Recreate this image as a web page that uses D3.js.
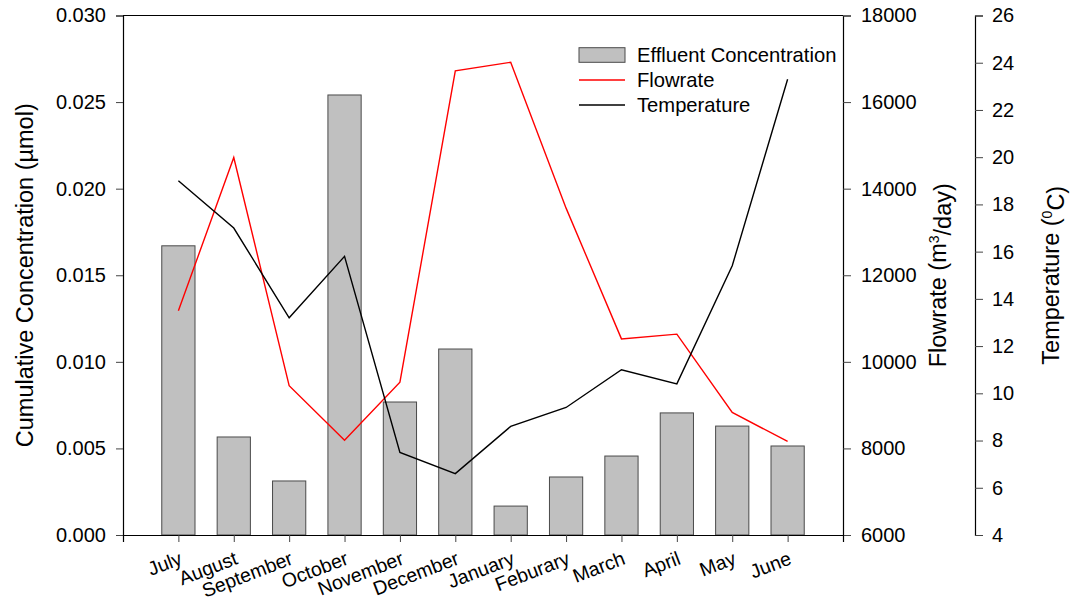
<!DOCTYPE html>
<html>
<head>
<meta charset="utf-8">
<script src="https://cdn.jsdelivr.net/npm/d3@7"></script>
<style>
  html, body { margin: 0; padding: 0; background: #fff; }
  svg { display: block; font-family: "Liberation Sans", Arial, sans-serif; }
</style>
</head>
<body>
<svg id="chart" width="1076" height="605"></svg>
<script>
// Monthly effluent concentration, flowrate and temperature
const months = ["July", "August", "September", "October", "November", "December",
                "January", "Feburary", "March", "April", "May", "June"];
const concentration = [0.0167, 0.00566, 0.00312, 0.02541, 0.00768, 0.01074,
                       0.00167, 0.00335, 0.00456, 0.00705, 0.00629, 0.00514];
const flowrate = [11180, 14720, 9450, 8190, 9530, 16720,
                  16920, 13550, 10530, 10640, 8830, 8160];
const temperature = [19.0, 17.0, 13.2, 15.8, 7.5, 6.6,
                     8.6, 9.4, 11.0, 10.4, 15.4, 23.3];
const concTicks = [0, 0.005, 0.010, 0.015, 0.020, 0.025, 0.030];
const flowTicks = [6000, 8000, 10000, 12000, 14000, 16000, 18000];
const tempTicks = [4, 6, 8, 10, 12, 14, 16, 18, 20, 22, 24, 26];

const svg = d3.select("#chart");
const plotLeft = 123, plotRight = 843, plotTop = 15.5, plotBottom = 535, tempAxisX = 975;

const x = d3.scaleLinear().domain([0, months.length + 1]).range([plotLeft, plotRight]);
const yConc = d3.scaleLinear().domain([0, 0.030]).range([plotBottom, plotTop]);
const yFlow = d3.scaleLinear().domain([6000, 18000]).range([plotBottom, plotTop]);
const yTemp = d3.scaleLinear().domain([4, 26]).range([plotBottom, plotTop]);

const step = x(1) - x(0);
const barW = step * 0.6;

// Bars
svg.append("g").selectAll("rect")
  .data(concentration)
  .join("rect")
  .attr("x", (d, i) => x(i + 1) - barW / 2)
  .attr("y", d => yConc(d))
  .attr("width", barW)
  .attr("height", d => yConc(0) - yConc(d))
  .attr("fill", "#c0c0c0")
  .attr("stroke", "#4a4a4a")
  .attr("stroke-width", 1);

// Lines
const flowLine = d3.line().x((d, i) => x(i + 1)).y(d => yFlow(d));
const tempLine = d3.line().x((d, i) => x(i + 1)).y(d => yTemp(d));
svg.append("path").datum(flowrate).attr("d", flowLine)
  .attr("fill", "none").attr("stroke", "#ff0000").attr("stroke-width", 1.4);
svg.append("path").datum(temperature).attr("d", tempLine)
  .attr("fill", "none").attr("stroke", "#000").attr("stroke-width", 1.4);

// Frame top
svg.append("line").attr("x1", plotLeft).attr("x2", plotRight).attr("y1", plotTop).attr("y2", plotTop)
  .attr("stroke", "#000").attr("stroke-width", 1.2);

function styleAxis(g) {
  g.select(".domain").attr("stroke", "#000").attr("stroke-width", 1.2);
  g.selectAll(".tick line").attr("stroke", "#444").attr("stroke-width", 1);
  g.selectAll(".tick text").attr("fill", "#000")
    .style("font-size", "20px").style("font-family", "Liberation Sans, Arial, sans-serif");
}

// Left axis
svg.append("g").attr("transform", `translate(${plotLeft},0)`)
  .call(d3.axisLeft(yConc).tickValues(concTicks).tickFormat(d3.format(".3f"))
    .tickSizeOuter(0).tickSize(7).tickPadding(10))
  .call(styleAxis);

// Flowrate axis
svg.append("g").attr("transform", `translate(${plotRight},0)`)
  .call(d3.axisRight(yFlow).tickValues(flowTicks).tickFormat(d3.format("d"))
    .tickSizeOuter(0).tickSize(8).tickPadding(10))
  .call(styleAxis);

// Temperature axis
svg.append("g").attr("transform", `translate(${tempAxisX},0)`)
  .call(d3.axisRight(yTemp).tickValues(tempTicks).tickFormat(d3.format("d"))
    .tickSizeOuter(0).tickSize(8).tickPadding(9))
  .call(styleAxis);

// Bottom axis
const xAxis = svg.append("g").attr("transform", `translate(0,${plotBottom})`)
  .call(d3.axisBottom(x).tickValues(d3.range(1, months.length + 1))
    .tickFormat(i => months[i - 1]).tickSizeOuter(0).tickSize(7).tickPadding(0))
  .call(styleAxis);
xAxis.selectAll(".tick text")
  .style("font-size", "19.5px")
  .attr("text-anchor", "end")
  .attr("dy", "0.72em")
  .attr("transform", "translate(-3,9) rotate(-21)");

// Axis titles
const titleFont = "23.5px";
svg.append("text")
  .attr("transform", `translate(33,${(plotTop + plotBottom) / 2}) rotate(-90)`)
  .attr("text-anchor", "middle").style("font-size", titleFont)
  .text("Cumulative Concentration (\u00b5mol)");

const flowTitle = svg.append("text")
  .attr("transform", `translate(946,${(plotTop + plotBottom) / 2}) rotate(-90)`)
  .attr("text-anchor", "middle").style("font-size", titleFont);
flowTitle.append("tspan").text("Flowrate (m");
flowTitle.append("tspan").text("3").attr("dy", "-0.5em").style("font-size", "14px");
flowTitle.append("tspan").text("/day)").attr("dy", "0.5em");

const tempTitle = svg.append("text")
  .attr("transform", `translate(1059,${(plotTop + plotBottom) / 2}) rotate(-90)`)
  .attr("text-anchor", "middle").style("font-size", titleFont);
tempTitle.append("tspan").text("Temperature (");
tempTitle.append("tspan").text("0").attr("dy", "-0.5em").style("font-size", "14px");
tempTitle.append("tspan").text("C)").attr("dy", "0.5em");

// Legend
const legend = svg.append("g");
const lx = 579, lw = 46, tx = 637;
legend.append("rect").attr("x", lx).attr("y", 47.7).attr("width", lw).attr("height", 14.6)
  .attr("fill", "#c0c0c0").attr("stroke", "#4a4a4a").attr("stroke-width", 1);
legend.append("line").attr("x1", lx).attr("x2", lx + lw).attr("y1", 80).attr("y2", 80)
  .attr("stroke", "#ff0000").attr("stroke-width", 1.4);
legend.append("line").attr("x1", lx).attr("x2", lx + lw).attr("y1", 105).attr("y2", 105)
  .attr("stroke", "#000").attr("stroke-width", 1.4);
const legendLabels = ["Effluent Concentration", "Flowrate", "Temperature"];
legend.selectAll("text.lbl").data(legendLabels).join("text")
  .attr("class", "lbl")
  .attr("x", tx).attr("y", (d, i) => 62 + i * 25)
  .style("font-size", "20.2px")
  .text(d => d);
</script>
</body>
</html>
